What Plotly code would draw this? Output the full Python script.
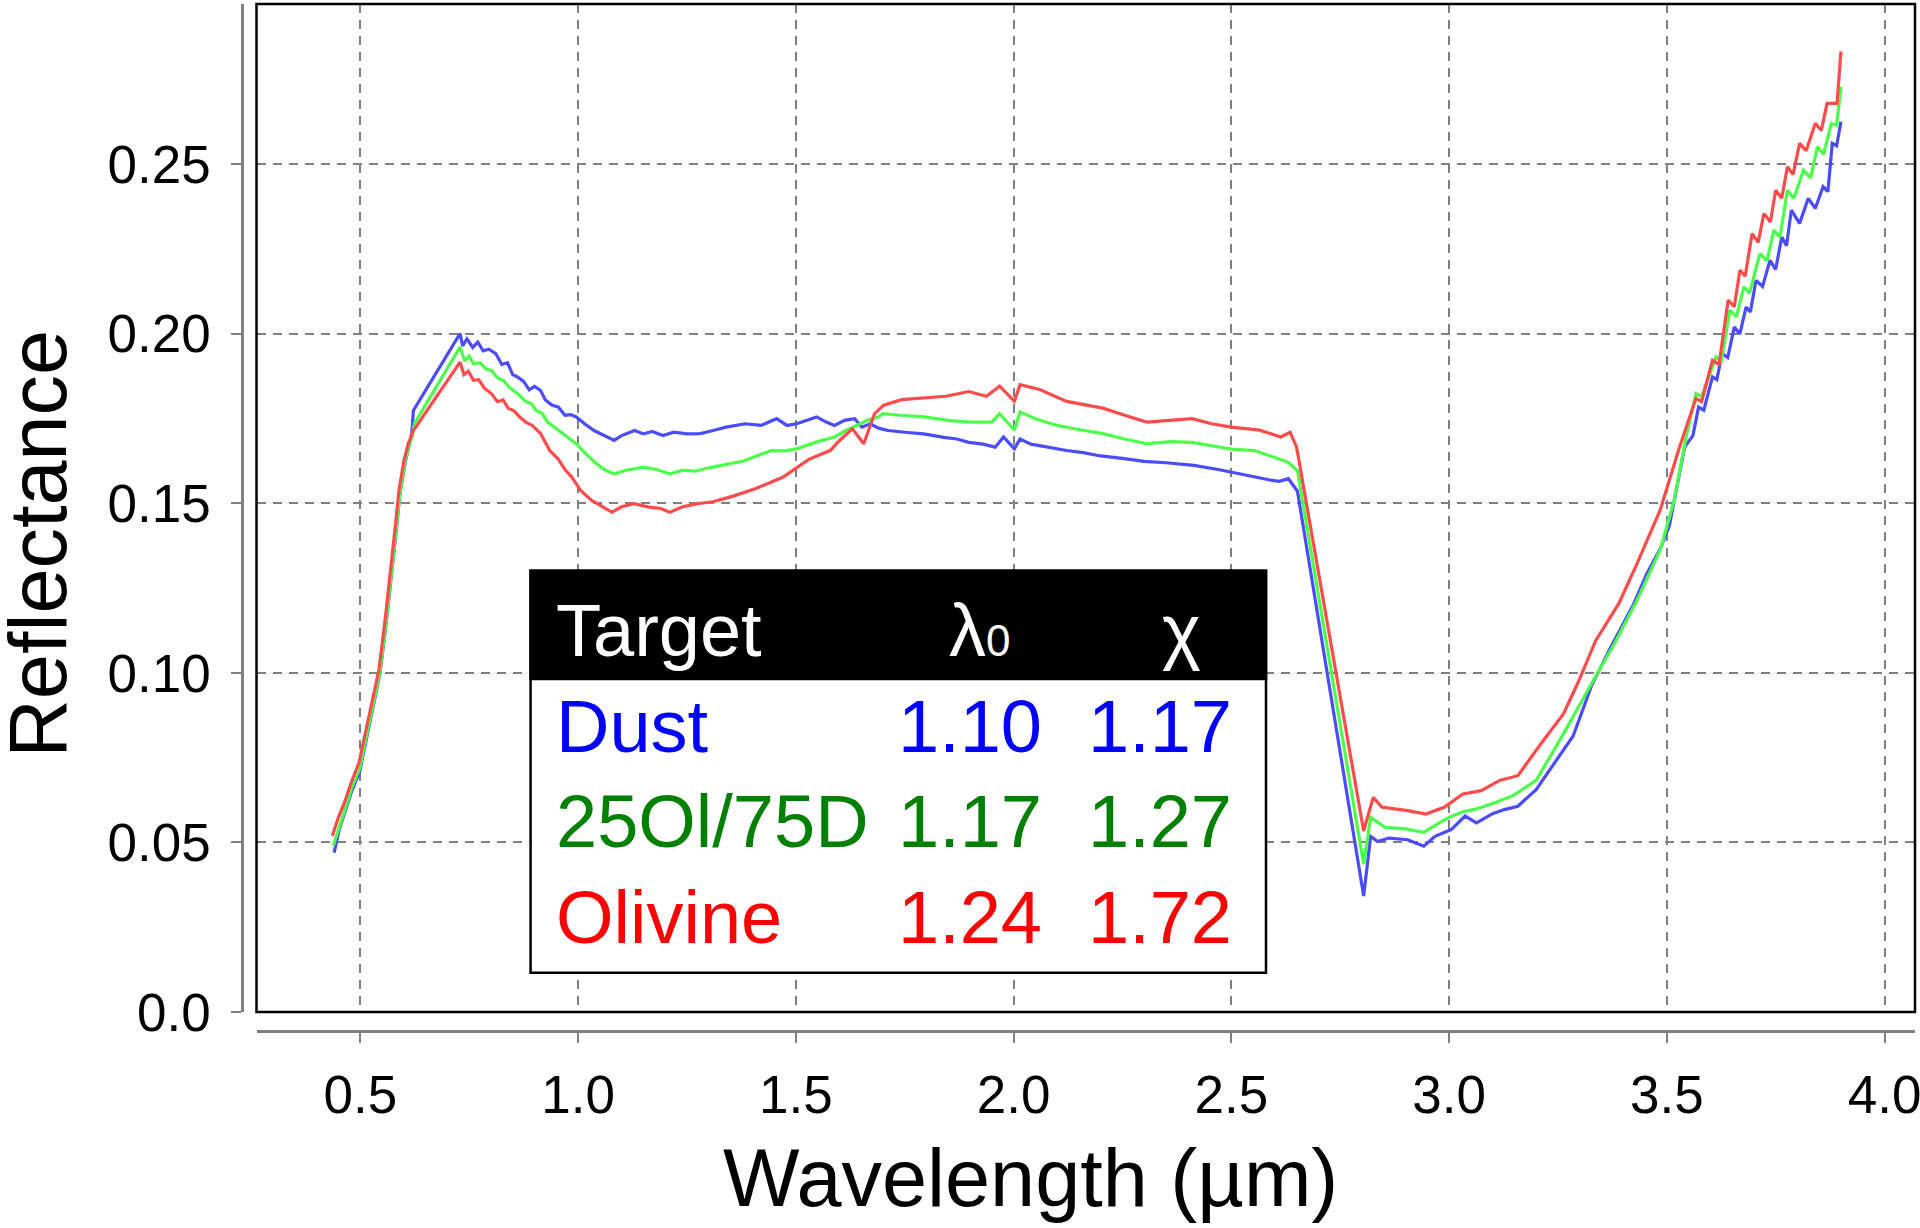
import plotly.graph_objects as go

# ─── spectra ───
dust_x = [0.440, 0.452, 0.463, 0.480, 0.499, 0.512, 0.524, 0.535, 0.545, 0.558, 0.570, 0.581, 0.591,
          0.603, 0.612, 0.618, 0.622, 0.729, 0.735, 0.745, 0.758, 0.770, 0.782, 0.795, 0.811, 0.825,
          0.838, 0.850, 0.861, 0.875, 0.888, 0.900, 0.914, 0.925, 0.940, 0.955, 0.970, 0.983, 0.996,
          1.015, 1.037, 1.060, 1.083, 1.100, 1.115, 1.130, 1.150, 1.170, 1.195, 1.220, 1.250, 1.281,
          1.310, 1.340, 1.384, 1.420, 1.456, 1.480, 1.502, 1.525, 1.548, 1.570, 1.589, 1.612, 1.635,
          1.652, 1.671, 1.690, 1.712, 1.750, 1.794, 1.840, 1.870, 1.897, 1.930, 1.958, 1.977, 2.002,
          2.015, 2.040, 2.080, 2.122, 2.160, 2.200, 2.250, 2.300, 2.350, 2.414, 2.470, 2.536, 2.570,
          2.589, 2.610, 2.631, 2.652, 2.804, 2.820, 2.836, 2.862, 2.905, 2.942, 2.968, 3.005, 3.037,
          3.063, 3.100, 3.127, 3.158, 3.200, 3.242, 3.285, 3.327, 3.369, 3.422, 3.454, 3.485, 3.506,
          3.541, 3.560, 3.573, 3.585, 3.605, 3.615, 3.627, 3.640, 3.655, 3.668, 3.682, 3.692, 3.705,
          3.720, 3.737, 3.750, 3.764, 3.775, 3.786, 3.805, 3.825, 3.841, 3.859, 3.870, 3.880, 3.890,
          3.900]
dust_y = [0.0470, 0.0540, 0.0583, 0.0650, 0.0711, 0.0790, 0.0869, 0.0935, 0.0997, 0.1130, 0.1263, 0.1400, 0.1528,
          0.1620, 0.1670, 0.1705, 0.1774, 0.2001, 0.1965, 0.1985, 0.1960, 0.1976, 0.1950, 0.1955, 0.1942, 0.1910,
          0.1915, 0.1880, 0.1873, 0.1860, 0.1835, 0.1845, 0.1833, 0.1805, 0.1790, 0.1784, 0.1760, 0.1762, 0.1755,
          0.1735, 0.1715, 0.1700, 0.1686, 0.1700, 0.1708, 0.1715, 0.1705, 0.1712, 0.1700, 0.1710, 0.1705, 0.1706,
          0.1715, 0.1725, 0.1735, 0.1730, 0.1750, 0.1730, 0.1735, 0.1745, 0.1755, 0.1740, 0.1730, 0.1745, 0.1750,
          0.1725, 0.1735, 0.1722, 0.1715, 0.1710, 0.1705, 0.1695, 0.1690, 0.1680, 0.1675, 0.1666, 0.1696, 0.1661,
          0.1690, 0.1675, 0.1665, 0.1656, 0.1650, 0.1640, 0.1633, 0.1624, 0.1620, 0.1612, 0.1600, 0.1582, 0.1572,
          0.1569, 0.1565, 0.1573, 0.1536, 0.0342, 0.0518, 0.0503, 0.0513, 0.0508, 0.0489, 0.0518, 0.0538, 0.0578,
          0.0558, 0.0585, 0.0597, 0.0607, 0.0656, 0.0735, 0.0814, 0.0962, 0.1070, 0.1198, 0.1292, 0.1366, 0.1435,
          0.1666, 0.1700, 0.1784, 0.1775, 0.1873, 0.1865, 0.1942, 0.1930, 0.2020, 0.2000, 0.2079, 0.2065, 0.2158,
          0.2140, 0.2217, 0.2190, 0.2286, 0.2260, 0.2365, 0.2326, 0.2400, 0.2370, 0.2434, 0.2420, 0.2562, 0.2555,
          0.2626]

mix_x = [0.438, 0.452, 0.463, 0.480, 0.499, 0.512, 0.524, 0.535, 0.545, 0.558, 0.570, 0.581, 0.591,
         0.603, 0.612, 0.620, 0.624, 0.729, 0.740, 0.750, 0.760, 0.775, 0.790, 0.801, 0.815, 0.830,
         0.840, 0.852, 0.865, 0.880, 0.892, 0.904, 0.918, 0.930, 0.945, 0.960, 0.975, 0.996, 1.015,
         1.040, 1.060, 1.083, 1.110, 1.150, 1.180, 1.211, 1.240, 1.270, 1.300, 1.340, 1.380, 1.410,
         1.444, 1.475, 1.502, 1.545, 1.589, 1.615, 1.640, 1.665, 1.690, 1.700, 1.740, 1.794, 1.850,
         1.897, 1.950, 1.968, 2.002, 2.015, 2.050, 2.100, 2.150, 2.205, 2.255, 2.306, 2.360, 2.410,
         2.455, 2.500, 2.553, 2.590, 2.630, 2.652, 2.804, 2.820, 2.853, 2.900, 2.942, 2.970, 3.000,
         3.030, 3.063, 3.100, 3.147, 3.200, 3.263, 3.327, 3.380, 3.432, 3.485, 3.517, 3.545, 3.567,
         3.580, 3.613, 3.625, 3.645, 3.660, 3.677, 3.690, 3.714, 3.730, 3.746, 3.760, 3.777, 3.792,
         3.814, 3.830, 3.846, 3.860, 3.878, 3.890, 3.900]
mix_y = [0.0490, 0.0550, 0.0590, 0.0660, 0.0720, 0.0800, 0.0875, 0.0940, 0.1000, 0.1135, 0.1268, 0.1405, 0.1530,
         0.1625, 0.1672, 0.1700, 0.1735, 0.1961, 0.1920, 0.1935, 0.1912, 0.1915, 0.1895, 0.1893, 0.1870, 0.1862,
         0.1845, 0.1833, 0.1820, 0.1800, 0.1795, 0.1774, 0.1765, 0.1740, 0.1725, 0.1710, 0.1695, 0.1676, 0.1650,
         0.1620, 0.1600, 0.1587, 0.1598, 0.1607, 0.1600, 0.1587, 0.1598, 0.1595, 0.1605, 0.1615, 0.1625, 0.1640,
         0.1656, 0.1655, 0.1661, 0.1680, 0.1696, 0.1715, 0.1730, 0.1745, 0.1755, 0.1765, 0.1760, 0.1755, 0.1745,
         0.1740, 0.1740, 0.1765, 0.1716, 0.1770, 0.1750, 0.1730, 0.1718, 0.1706, 0.1690, 0.1676, 0.1682, 0.1680,
         0.1670, 0.1660, 0.1656, 0.1640, 0.1622, 0.1597, 0.0436, 0.0574, 0.0545, 0.0540, 0.0530, 0.0552, 0.0574,
         0.0590, 0.0599, 0.0615, 0.0638, 0.0683, 0.0821, 0.0968, 0.1087, 0.1215, 0.1363, 0.1510, 0.1700, 0.1824,
         0.1815, 0.1932, 0.1920, 0.2070, 0.2050, 0.2139, 0.2120, 0.2237, 0.2215, 0.2306, 0.2285, 0.2424, 0.2400,
         0.2483, 0.2460, 0.2552, 0.2530, 0.2621, 0.2615, 0.2729]

oli_x = [0.436, 0.450, 0.463, 0.480, 0.497, 0.510, 0.522, 0.533, 0.543, 0.556, 0.568, 0.579, 0.589,
         0.600, 0.610, 0.618, 0.622, 0.729, 0.738, 0.748, 0.760, 0.772, 0.785, 0.801, 0.815, 0.828,
         0.840, 0.852, 0.866, 0.880, 0.895, 0.914, 0.935, 0.955, 0.970, 0.986, 1.006, 1.030, 1.055,
         1.078, 1.100, 1.129, 1.160, 1.190, 1.211, 1.240, 1.273, 1.310, 1.360, 1.410, 1.470, 1.530,
         1.579, 1.600, 1.630, 1.656, 1.681, 1.702, 1.743, 1.790, 1.845, 1.897, 1.938, 1.968, 2.002,
         2.015, 2.060, 2.122, 2.205, 2.255, 2.306, 2.358, 2.410, 2.455, 2.500, 2.565, 2.614, 2.635,
         2.650, 2.804, 2.826, 2.846, 2.905, 2.947, 2.989, 3.032, 3.074, 3.116, 3.158, 3.211, 3.263,
         3.295, 3.337, 3.390, 3.432, 3.485, 3.527, 3.567, 3.580, 3.605, 3.620, 3.641, 3.655, 3.668,
         3.680, 3.696, 3.710, 3.723, 3.738, 3.750, 3.764, 3.777, 3.790, 3.805, 3.820, 3.841, 3.855,
         3.868, 3.891, 3.900]
oli_y = [0.0520, 0.0575, 0.0615, 0.0680, 0.0735, 0.0810, 0.0885, 0.0950, 0.1010, 0.1145, 0.1280, 0.1415, 0.1540,
         0.1625, 0.1675, 0.1700, 0.1715, 0.1917, 0.1880, 0.1890, 0.1863, 0.1865, 0.1840, 0.1824, 0.1800, 0.1805,
         0.1780, 0.1774, 0.1755, 0.1740, 0.1730, 0.1706, 0.1656, 0.1630, 0.1600, 0.1577, 0.1538, 0.1510, 0.1490,
         0.1474, 0.1490, 0.1499, 0.1490, 0.1485, 0.1474, 0.1490, 0.1499, 0.1505, 0.1523, 0.1545, 0.1577, 0.1630,
         0.1656, 0.1685, 0.1720, 0.1676, 0.1765, 0.1790, 0.1806, 0.1810, 0.1816, 0.1830, 0.1816, 0.1846, 0.1801,
         0.1850, 0.1836, 0.1801, 0.1781, 0.1760, 0.1740, 0.1745, 0.1750, 0.1735, 0.1725, 0.1716, 0.1696, 0.1710,
         0.1666, 0.0534, 0.0633, 0.0604, 0.0594, 0.0584, 0.0604, 0.0643, 0.0653, 0.0683, 0.0697, 0.0791, 0.0880,
         0.0968, 0.1096, 0.1205, 0.1323, 0.1481, 0.1657, 0.1810, 0.1800, 0.1922, 0.1910, 0.2100, 0.2080, 0.2188,
         0.2170, 0.2296, 0.2270, 0.2355, 0.2330, 0.2424, 0.2400, 0.2493, 0.2470, 0.2562, 0.2540, 0.2621, 0.2600,
         0.2680, 0.2680, 0.2833]

# ─── inset table ───
targets = ['Dust', '25Ol/75D', 'Olivine']
lambda0 = ['1.10', '1.17', '1.24']
chi = ['1.17', '1.27', '1.72']
text_colors = ['#0000ff', '#008000', '#ff0000']
line_colors = ['#4b4bff', '#4bff4b', '#ff4b4b']

x_ticks = [0.5, 1.0, 1.5, 2.0, 2.5, 3.0, 3.5, 4.0]
y_ticks = [0.0, 0.05, 0.10, 0.15, 0.20, 0.25]
y_ticktext = ['0.0', '0.05', '0.10', '0.15', '0.20', '0.25']

# ─── page geometry (pixels) ───
WIDTH, HEIGHT = 1920, 1228
ML, MR, MT, MB = 242, 5, 4, 197
PW = WIDTH - ML - MR
PH = HEIGHT - MT - MB
FONT = 'Liberation Sans, Arial, Helvetica, sans-serif'
GRID = '#808080'


def px(x):
    return (x - ML) / PW


def py(y):
    return (HEIGHT - MB - y) / PH


fig = go.Figure()
for xs, ys, name, col in [(dust_x, dust_y, targets[0], line_colors[0]),
                          (mix_x, mix_y, targets[1], line_colors[1]),
                          (oli_x, oli_y, targets[2], line_colors[2])]:
    fig.add_trace(go.Scatter(x=xs, y=ys, mode='lines', name=name,
                             line=dict(color=col, width=3.2)))

axis_common = dict(
    anchor='free', position=0, automargin=False, ticklabeloverflow='allow',
    showline=True, linecolor=GRID, linewidth=2.5,
    ticks='outside', ticklen=10, tickwidth=2, tickcolor=GRID,
    showgrid=True, gridcolor=GRID, gridwidth=1.5, griddash='9px,7px',
    zeroline=False,
    tickfont=dict(family=FONT, size=53, color='black'),
)
fig.update_layout(
    width=WIDTH, height=HEIGHT,
    margin=dict(l=ML, r=MR, t=MT, b=MB),
    paper_bgcolor='white', plot_bgcolor='white',
    showlegend=False,
    xaxis=dict(domain=[px(256.5), 1], range=[0.2617, 4.070],
               tickvals=x_ticks, tickformat='.1f', ticklabelstandoff=7,
               **axis_common),
    yaxis=dict(domain=[py(1012), 1], range=[0, 0.2973],
               tickvals=y_ticks, ticktext=y_ticktext, ticklabelstandoff=10,
               **axis_common),
)

# plot frame
fig.add_shape(type='rect', xref='x domain', yref='y domain', x0=0, x1=1, y0=0, y1=1,
              line=dict(color='black', width=2.5), layer='above')

# table box
fig.add_shape(type='rect', xref='paper', yref='paper',
              x0=px(530.6), x1=px(1266), y0=py(972.7), y1=py(570.7),
              fillcolor='white', line=dict(color='black', width=2.5), layer='above')
fig.add_shape(type='rect', xref='paper', yref='paper',
              x0=px(530.6), x1=px(1266), y0=py(679), y1=py(570.7),
              fillcolor='black', line=dict(color='black', width=2.5), layer='above')

TS = 74
off = 0.3465 * TS


def label(text, x, y, color, xanchor, size=TS, angle=0):
    fig.add_annotation(text=text, x=x, y=y, xref='paper', yref='paper',
                       xanchor=xanchor, yanchor='middle', showarrow=False,
                       textangle=angle, font=dict(family=FONT, size=size, color=color))


label('Target', px(553.6), py(656 - off), 'white', 'left')
label("λ<span style='font-size:44px'>0</span>", px(979.6), py(656 - off), 'white', 'center')
label('χ', px(1181), py(656 - off), 'white', 'center')
for i, base in enumerate([751.7, 846.7, 942.7]):
    label(targets[i], px(553.6), py(base - off), text_colors[i], 'left')
    label(lambda0[i], px(1044), py(base - off), text_colors[i], 'right')
    label(chi[i], px(1234), py(base - off), text_colors[i], 'right')

# axis titles
label('Wavelength (µm)', px(1030), py(1206 - 0.3465 * 81), 'black', 'center', size=81)
label('Reflectance', px(66 - 0.3465 * 81), py(543.7), 'black', 'center', size=81, angle=-90)

# page body has a default 8px margin; drop it so the figure fills the window
fig.write_html('out.html', config={'displayModeBar': False},
               post_script="document.body.style.margin='0px';")
